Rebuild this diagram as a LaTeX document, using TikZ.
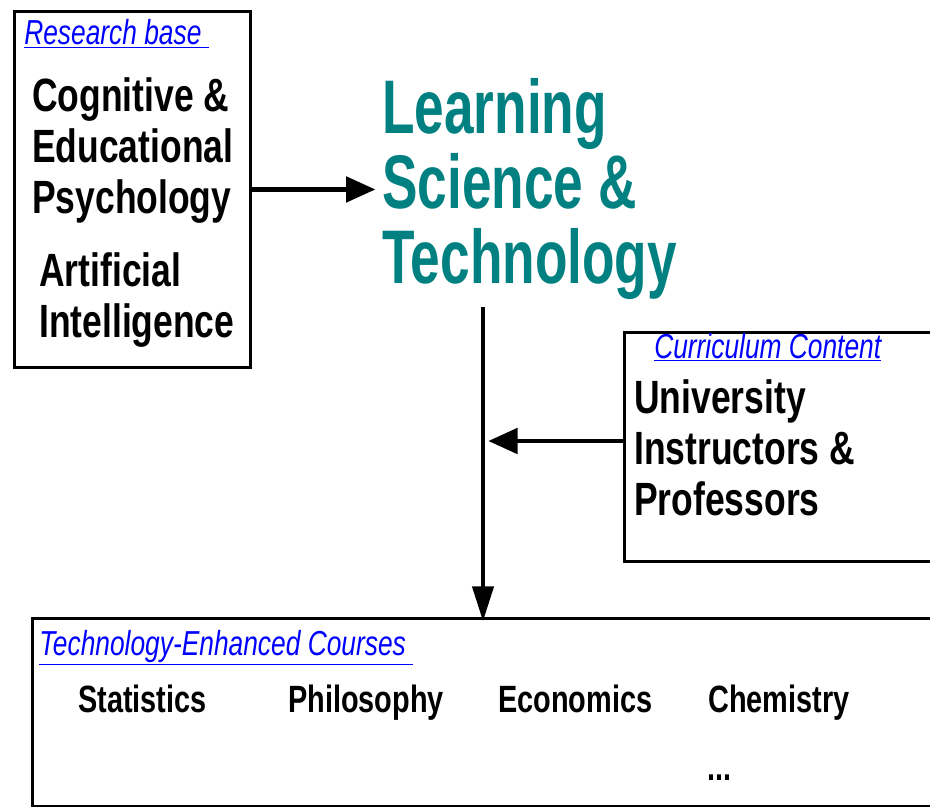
\documentclass[tikz,border=0pt]{standalone}
\usepackage{fontspec}
\setmainfont{Liberation Sans}[FakeStretch=0.76]
\newfontfamily\titlefont{Liberation Sans}[FakeStretch=0.70]
\usetikzlibrary{arrows.meta,positioning}
\definecolor{lsteal}{RGB}{0,128,128}
\definecolor{linkblue}{RGB}{0,0,255}
\tikzset{
  panel/.style={draw, line width=2.2pt, anchor=north west, inner sep=0pt},
  header/.style={anchor=base west, inner sep=0pt, text=linkblue, font=\fontsize{26}{30}\selectfont\itshape},
  entry/.style={anchor=base west, inner sep=0pt, align=left, font=\fontsize{35}{38}\selectfont\bfseries},
  course/.style={anchor=base west, inner sep=0pt, font=\fontsize{28.5}{34}\selectfont\bfseries},
  feed/.style={line width=3.3pt, -{Triangle[length=22pt,width=19pt]}},
}
\begin{document}
\begin{tikzpicture}[x=0.75pt,y=-0.75pt]
	\clip (0,0) rectangle (930,806);
	%boxes
	\node[panel, minimum width=177pt, minimum height=267pt] (research) at (13,10) {};
	\node[panel, minimum width=250pt, minimum height=172pt] (curriculum) at (623,331) {};
	\node[panel, minimum width=690pt, minimum height=141pt] (courses) at (31,617) {};
	
	%research base
	\node[header] (researchlbl) at (24,45) {\underline{Research base\ }};
	\node[entry] (psych) at (32,213) {Cognitive \&\\Educational\\Psychology};
	\node[entry] (ai) at (39,337) {Artificial\\Intelligence};
	
	%title
	\node[anchor=base west, inner sep=0pt, align=left, text=lsteal,
		font=\titlefont\fontsize{57}{56}\selectfont\bfseries] (lst) at (382,283)
		{Learning\\Science \&\\Technology};
	
	%curriculum content
	\node[header] (curlbl) at (654,358) {\underline{Curriculum Content}};
	\node[entry] (staff) at (634,515) {University\\Instructors \&\\Professors};
	
	%courses
	\node[header] (courselbl) at (39,655) {\underline{Technology-Enhanced Courses\ }};
	\foreach \subj [count=\i] in {Statistics, Philosophy, Economics, Chemistry}{
		\node[course] (subj\i) at (78+210*\i-210, 712) {\subj};
	}
	\node[course] (more) at (707,780) {...};
	
	%arrows
	\coordinate (join) at (483,441);
	\draw[feed, shorten >=5pt] (research.east) -- (lst.west |- research.east);
	\draw[line width=2.4pt, -{Triangle[length=26pt,width=16pt]}, shorten <=6pt, shorten >=-3pt]
		(join |- lst.south) -- (join |- courses.north);
	\draw[feed, shorten >=4pt] (curriculum.west |- join) -- (join);
\end{tikzpicture}
\end{document}
